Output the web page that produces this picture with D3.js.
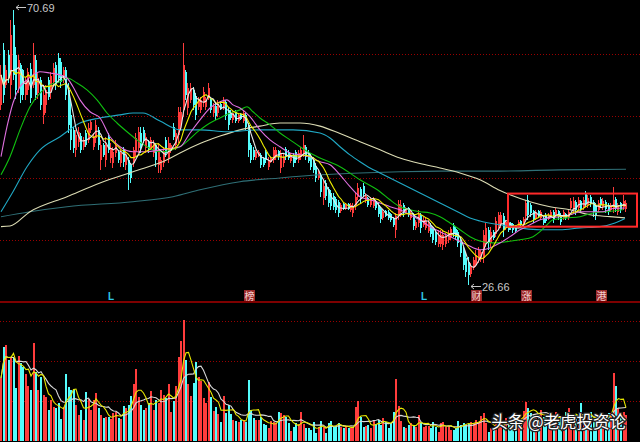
<!DOCTYPE html>
<html>
<head>
<meta charset="utf-8">
<script src="https://cdn.jsdelivr.net/npm/d3@7"></script>
<style>
html, body { margin: 0; padding: 0; background: #000; }
svg { display: block; }
</style>
</head>
<body>
<svg id="drawing_region"></svg>
<script>
// daily prices, one entry per trading day
const open = [
55.5,64.3,58.7,63.5,58.7,68.3,63.5,58.2,61.9,61.1, 57.1,57.9,61.2,58.7,62.7,57.4,59.5,53.9,55.5,59.5,
57.6,59.2,61.9,63.0,62.4,59.5,61.1,57.9,53.9,51.5, 48.3,49.6,50.5,48.8,51.0,49.9,51.5,48.8,50.2,51.5,
46.7,49.1,46.7,50.4,47.0,46.2,47.8,48.0,46.2,48.3, 45.9,46.7,45.9,46.2,48.0,48.6,51.0,51.5,48.6,49.6,
48.6,47.8,49.1,45.9,45.1,46.2,49.9,47.0,48.3,52.0, 49.1,50.7,52.3,54.7,60.8,55.0,56.3,57.9,56.9,55.2,
54.7,55.8,55.2,56.8,56.5,54.2,55.3,54.2,55.7,55.2, 56.0,54.7,54.4,53.1,54.4,52.9,54.1,52.9,53.9,52.3,
49.1,48.3,47.0,47.3,47.5,47.0,48.0,45.6,46.4,46.7, 47.2,48.1,45.4,46.2,48.5,48.0,46.5,47.5,48.0,46.7,
47.2,47.8,48.8,47.8,47.3,46.7,45.7,43.8,44.3,40.6, 43.0,42.1,41.4,40.9,40.5,40.0,38.5,39.7,38.9,39.7,
38.7,38.2,39.3,40.8,42.1,42.5,40.1,40.6,39.5,39.3, 40.1,39.5,38.9,37.4,38.5,38.4,38.1,37.4,35.5,37.9,
38.4,39.5,38.4,39.0,37.4,37.9,35.8,36.6,37.9,36.3, 35.8,35.3,36.3,35.7,35.2,33.3,33.3,33.0,33.3,33.9,
34.4,36.3,35.7,35.2,33.9,32.3,31.0,30.4,28.5,29.4, 30.1,30.7,31.0,31.0,33.6,35.5,33.4,35.2,34.9,36.1,
36.5,37.7,35.8,36.5,36.6,36.5,36.1,36.1,36.9,36.3, 37.7,40.3,39.5,38.5,37.4,38.5,37.4,37.4,37.9,37.3,
37.7,38.4,37.9,38.5,37.9,37.4,38.1,37.4,39.0,38.7, 40.0,39.0,40.1,39.0,41.3,39.5,40.8,40.0,39.5,38.7,
40.5,39.2,40.0,39.5,38.7,39.0,40.5,38.4,39.8,39.2, 38.9
];
const close = [
60.3,57.1,61.1,59.8,66.7,60.3,57.9,62.7,57.1,57.1, 59.5,60.8,56.6,63.5,57.1,59.8,55.5,57.1,57.9,56.8,
60.1,61.4,58.7,59.8,59.2,61.1,57.1,52.3,49.9,48.6, 50.7,51.2,48.3,49.9,49.1,51.8,52.8,50.4,52.3,49.1,
49.1,47.5,49.1,48.3,48.6,48.0,49.1,46.7,47.8,46.4, 47.5,44.3,43.8,48.3,50.2,51.2,48.6,49.9,50.4,48.3,
49.9,49.1,46.7,48.3,46.7,48.0,47.8,49.4,49.1,50.4, 51.0,54.4,54.4,61.9,57.1,58.2,58.2,55.5,53.9,56.3,
56.3,57.6,56.3,58.2,54.7,55.3,53.7,55.7,54.9,56.3, 53.7,52.3,53.4,54.2,52.9,53.9,53.3,54.2,52.0,48.3,
46.7,47.2,48.0,48.0,45.9,45.9,46.7,46.7,47.0,48.3, 48.3,47.2,47.8,47.2,47.2,47.0,47.5,46.2,46.7,47.8,
48.3,49.1,47.2,46.5,45.6,45.1,43.8,44.6,41.6,42.5, 40.9,39.8,39.3,39.2,38.7,38.2,39.5,38.9,39.5,38.9,
39.5,39.3,40.8,42.2,40.5,41.3,40.9,39.5,40.5,40.3, 39.0,38.1,37.3,38.4,37.7,37.4,37.1,36.3,37.7,39.7,
39.5,38.2,39.0,37.9,38.2,36.1,36.8,38.1,35.8,37.1, 36.9,36.5,34.9,33.9,33.6,34.7,34.6,34.6,34.4,35.0,
35.7,34.9,34.4,33.4,31.8,29.9,28.8,28.3,29.7,30.7, 31.5,32.3,32.0,34.7,35.8,33.4,35.2,34.2,36.9,37.9,
37.9,35.5,36.8,35.5,35.8,35.5,35.3,36.8,36.3,37.3, 39.8,37.9,38.2,37.3,38.2,37.7,38.4,36.6,36.9,37.9,
38.4,37.3,38.7,37.6,36.8,38.4,37.4,38.4,40.1,40.1, 38.7,40.3,38.9,40.3,39.7,40.6,39.7,38.4,37.9,39.8,
39.5,40.1,38.9,38.4,39.5,40.3,39.0,39.5,38.7,40.1, 39.8
];
const high = [
61.9,65.4,61.9,64.3,69.1,70.69,64.8,63.5,62.2,61.2, 60.0,61.4,62.2,65.4,63.5,60.6,60.0,58.4,58.7,60.0,
60.8,62.2,62.4,63.8,63.0,61.6,61.6,59.0,56.3,52.0, 51.5,52.0,51.0,50.4,51.5,52.6,53.1,51.0,53.1,52.0,
49.9,49.4,50.4,51.0,49.4,48.8,49.9,48.3,48.3,48.8, 48.3,47.2,46.2,48.8,51.0,52.0,52.0,52.0,51.0,49.9,
50.4,49.9,49.4,49.4,47.2,48.8,50.4,50.4,49.4,52.6, 51.5,55.2,55.2,65.4,61.1,59.0,59.0,58.4,57.4,56.8,
56.8,58.4,56.8,59.0,56.8,55.8,55.8,56.3,55.8,56.8, 56.3,55.2,54.7,54.7,54.7,54.2,54.2,54.7,54.2,52.6,
49.4,48.8,48.3,48.3,47.8,47.2,48.3,47.2,47.2,48.8, 48.8,48.3,48.3,47.8,48.8,48.3,47.8,47.8,48.3,48.3,
48.8,50.7,49.1,48.3,47.8,47.2,46.2,45.1,44.6,43.5, 43.5,42.4,41.9,41.4,40.8,40.3,39.8,39.8,39.8,39.8,
39.8,39.8,41.4,43.0,42.4,43.0,41.4,40.8,40.8,40.8, 40.3,39.8,39.2,38.7,38.7,38.7,38.2,37.6,38.2,40.3,
40.3,39.8,39.2,39.2,38.7,38.2,37.1,38.7,38.2,37.6, 37.6,37.1,36.6,36.0,35.5,35.5,35.5,35.5,35.0,35.5,
36.0,36.6,36.0,35.5,34.4,32.8,31.8,31.2,30.2,31.2, 32.3,32.8,32.3,35.5,36.6,36.0,36.0,35.5,37.6,38.4,
38.4,38.2,37.1,36.6,36.8,36.6,36.3,37.1,37.1,37.6, 40.3,41.1,39.8,38.7,38.7,38.7,38.7,37.6,38.2,38.2,
38.7,38.7,39.0,38.7,38.2,38.7,38.2,38.7,40.6,40.8, 40.3,40.8,40.3,40.8,41.7,41.1,41.1,40.3,39.8,40.3,
40.8,40.6,40.3,39.8,39.8,42.4,40.8,39.8,40.0,41.1, 40.3
];
const low = [
54.7,55.8,58.2,59.0,56.4,59.5,56.4,57.4,55.8,56.3, 56.3,57.1,55.8,58.2,56.3,56.4,54.7,52.4,54.2,56.3,
56.4,58.4,57.9,59.0,58.2,59.0,56.3,51.0,48.3,47.8, 47.2,48.8,47.8,48.3,48.8,49.4,51.0,48.3,49.4,48.3,
45.1,47.2,45.6,47.8,46.2,45.4,47.2,46.2,45.6,45.6, 45.1,41.9,43.0,45.6,47.2,47.8,47.8,49.4,47.8,47.8,
48.3,47.2,45.6,44.6,44.6,45.6,47.2,46.2,47.8,49.9, 48.3,49.4,51.5,53.6,56.3,53.8,55.8,54.7,53.1,54.7,
54.2,55.2,54.7,56.3,54.2,53.6,53.1,53.6,54.7,54.7, 53.1,51.5,53.1,52.6,52.6,52.6,53.1,52.6,51.5,47.2,
46.2,46.7,46.7,47.2,45.4,45.6,46.2,45.1,46.2,46.2, 46.7,46.7,44.6,45.6,46.7,46.7,46.2,45.6,46.2,46.2,
46.7,47.2,46.7,46.2,45.1,44.6,43.2,43.5,40.8,39.4, 40.3,39.2,38.7,38.7,38.2,37.6,38.2,38.7,38.7,38.7,
38.4,37.6,38.7,40.3,39.8,40.8,39.8,39.2,39.2,39.0, 38.7,37.6,36.6,37.1,37.6,37.1,36.8,36.0,34.2,37.1,
37.6,37.6,38.2,37.6,37.1,35.5,35.5,36.0,35.0,36.0, 35.5,35.0,34.4,33.4,33.1,32.8,32.8,32.3,32.8,33.4,
33.9,34.4,33.9,32.8,31.2,29.1,28.0,26.66,28.0,29.1, 29.6,30.2,30.4,30.2,32.8,32.3,32.8,33.9,34.4,35.5,
35.8,34.4,35.5,35.2,35.5,35.0,35.0,35.8,36.0,36.0, 37.1,37.1,37.6,36.6,37.1,37.4,37.1,36.3,36.6,37.1,
37.4,36.6,37.6,37.1,36.3,37.1,37.1,37.1,38.7,38.2, 37.9,38.7,38.2,38.7,39.2,39.0,39.2,37.6,37.1,38.2,
39.0,38.7,38.2,37.9,38.4,38.2,38.4,37.9,38.2,38.7, 38.4
];
const volume = [
63,94,96,81,84,83,53,85,78,74, 67,55,51,98,69,51,64,46,44,31,
41,34,33,38,22,34,67,54,51,52, 36,26,31,21,49,42,31,41,48,33,
26,23,24,24,22,28,29,23,22,35, 33,36,45,57,72,44,36,31,33,38,
50,31,41,38,51,46,43,57,29,40, 55,84,100,121,81,57,45,58,79,64,
60,43,38,59,44,30,34,27,19,45, 28,36,27,21,20,19,21,21,19,61,
31,23,21,21,24,17,16,13,20,19, 18,29,28,26,24,18,10,14,18,17,
29,17,13,13,11,19,8,14,20,14, 8,18,20,14,15,18,14,13,15,13,
13,14,34,40,24,14,15,16,13,21, 17,21,16,23,19,13,18,29,62,35,
20,14,13,16,18,16,14,26,18,14, 15,15,13,19,14,9,18,19,14,15,
11,11,13,20,16,18,16,17,19,18, 21,19,25,28,18,9,13,14,18,14,
18,16,23,18,19,21,26,21,21,30, 39,33,28,26,24,26,31,24,24,21,
24,21,29,21,24,22,29,33,24,22, 26,21,38,23,21,24,29,21,23,26,
24,23,21,28,28,68,55,33,24,29, 26
];

// long moving averages: [day index, price]
const ma20 = [[0,47.2],[2.4,52.0],[4.8,55.8],[7.6,58.4],[10.4,59.5],[12.8,60.3],[15.6,60.8],[19.6,60.6],[23.6,60.3],[26.4,59.8],
  [28.8,58.4],[31.6,56.3],[35.6,54.4],[39.6,53.4],[43.6,50.4],[47.6,48.8],[52.8,48.0],[58.4,48.0],[63.6,48.3],[71.6,48.8],
  [75.6,51.0],[79.6,53.1],[83.6,55.0],[87.6,56.0],[90.4,56.3],[92.8,55.5],[95.6,55.0],[99.6,53.6],[103.6,51.5],[107.6,49.9],
  [111.6,48.8],[115.6,47.8],[119.6,47.5],[123.6,47.2],[127.6,46.4],[131.6,45.9],[135.6,44.3],[139.6,42.4],[143.6,40.8],[147.6,40.3],
  [151.6,39.8],[155.6,39.2],[159.6,38.7],[163.6,37.9],[167.6,37.1],[171.6,36.0],[175.6,35.2],[180.8,34.2],[186.4,33.1],[191.6,32.3],
  [195.6,32.6],[199.6,33.4],[203.6,34.4],[207.6,35.5],[211.6,36.3],[215.6,37.1],[219.6,37.4],[223.6,37.6],[227.6,37.9],[231.6,38.4],
  [235.6,38.4],[240.8,38.4],[244.8,38.9],[249.6,39.0]];
const ma30 = [[0,44.3],[3.6,47.2],[7.6,51.5],[11.6,55.2],[15.6,57.4],[19.6,58.7],[23.6,59.2],[26.4,59.8],[30.4,59.0],[34.4,57.9],
  [38.4,56.3],[42.4,54.2],[46.4,52.6],[50.4,51.2],[54.4,49.9],[58.4,48.8],[63.6,48.0],[71.6,48.8],[79.6,51.5],[83.6,52.6],
  [87.6,53.4],[91.6,54.2],[95.6,54.7],[98.4,55.2],[100.8,54.4],[103.6,53.4],[107.6,52.3],[111.6,51.0],[115.6,49.9],[119.6,48.8],
  [123.6,47.8],[127.6,47.0],[135.6,45.6],[143.6,43.5],[151.6,41.6],[155.6,40.3],[159.6,39.2],[163.6,38.7],[167.6,38.4],[171.6,38.2],
  [175.6,37.6],[179.6,36.6],[183.6,35.5],[187.6,34.4],[191.6,33.7],[196.8,33.4],[202.4,33.6],[207.6,33.9],[212.8,34.4],[215.6,35.2],
  [218.4,36.3],[220.8,37.1],[226.4,37.4],[231.6,37.6],[236.8,38.2],[242.4,38.4],[248.8,38.7]];
const ma60 = [[0,38.4],[4.8,41.6],[10.4,45.6],[15.6,48.3],[23.6,50.4],[31.6,52.6],[39.6,53.4],[47.6,53.9],[52.8,54.2],[56.8,54.2],
  [63.6,52.9],[71.6,51.5],[79.6,51.5],[90.4,51.2],[103.6,51.5],[116.8,51.5],[127.6,51.0],[131.6,50.2],[135.6,48.8],[139.6,47.5],
  [143.6,46.4],[147.6,45.4],[151.6,44.6],[155.6,43.8],[159.6,43.0],[163.6,42.2],[167.6,41.4],[171.6,40.6],[175.6,39.8],[179.6,39.0],
  [183.6,38.2],[187.6,37.4],[191.6,36.9],[199.6,36.3],[207.6,35.8],[215.6,35.5],[223.6,35.5],[231.6,35.8],[239.6,36.0],[245.6,36.6],
  [249.6,37.3]];
const ma120 = [[0,36.0],[3.6,36.1],[11.6,38.4],[26.4,40.8],[39.6,43.0],[52.8,44.8],[66.4,46.7],[71.6,47.8],[79.6,49.3],[87.6,50.5],
  [95.6,51.5],[103.6,52.1],[111.6,52.6],[119.6,52.6],[127.6,52.1],[135.6,50.9],[143.6,49.6],[151.6,48.3],[159.6,47.0],[167.6,46.1],
  [175.6,45.4],[183.6,44.6],[191.6,43.5],[199.6,41.8],[203.6,41.1],[211.6,40.0],[219.6,39.2],[227.6,38.7],[235.6,37.9],[243.6,37.6],
  [249.6,37.4]];
const ma250 = [[0,37.6],[11.6,38.4],[26.4,39.2],[52.8,40.0],[68.8,40.8],[79.6,41.9],[95.6,43.2],[111.6,43.8],[127.6,44.3],[143.6,44.6],
  [159.6,44.8],[175.6,44.9],[199.6,44.9],[223.6,45.1],[250,45.2]];

const priceGrid = [63.66, 53.74, 43.82, 33.9];
const volumeGrid = [40, 80, 120];

const markerIdx = [44, 99, 169, 190, 210, 240];
const markerText = ['L', '榜', 'L', '财', '涨', '港'];

const boxIdx = [202.8, 254.4];
const boxPrice = [36.0, 41.3];

const config = {
    parent: '#drawing_region',
    width: 640,
    height: 442,
    plotLeft: 1, plotRight: 626,
    priceTop: 10, priceBottom: 285,
    divider: 302,
    volTop: 320, volBottom: 441
};

class KLineChart {
    constructor(config) {
        this.config = config;
        this.init();
    }

    init() {
        let self = this;
        const c = self.config;

        self.svg = d3.select(c.parent)
            .attr('width', c.width)
            .attr('height', c.height);

        self.svg.append('rect')
            .attr('width', c.width).attr('height', c.height)
            .attr('fill', '#000');

        self.xscale = d3.scaleLinear()
            .domain([0, close.length - 1])
            .range([c.plotLeft, c.plotRight]);

        self.yscale = d3.scaleLinear()
            .domain([d3.min(low), d3.max(high)])
            .range([c.priceBottom, c.priceTop]);

        self.vscale = d3.scaleLinear()
            .domain([0, 121])
            .range([c.volBottom, c.volTop]);

        self.render();
    }

    movingAverage(values, n) {
        return values.map((v, i) => d3.mean(values.slice(Math.max(0, i - n + 1), i + 1)));
    }

    render() {
        let self = this;
        const c = self.config;
        const up = '#ff3c3c', down = '#54fcfc';
        const days = d3.range(close.length);
        const colorOf = i => close[i] >= open[i] ? up : down;

        // grids
        self.svg.append('g').selectAll('line')
            .data(priceGrid.map(p => self.yscale(p)).concat(volumeGrid.map(v => self.vscale(v))))
            .join('line')
            .attr('x1', 0).attr('x2', c.width)
            .attr('y1', d => Math.round(d) + 0.5).attr('y2', d => Math.round(d) + 0.5)
            .attr('stroke', '#9a0000')
            .attr('stroke-dasharray', '1,2');

        self.svg.append('line')
            .attr('x1', 0).attr('x2', c.width)
            .attr('y1', c.divider).attr('y2', c.divider)
            .attr('stroke', '#a80000').attr('stroke-width', 1.5);

        // candles
        const candles = self.svg.append('g').attr('shape-rendering', 'crispEdges');
        candles.selectAll('line')
            .data(days)
            .join('line')
            .attr('x1', i => Math.round(self.xscale(i)) - 0.5)
            .attr('x2', i => Math.round(self.xscale(i)) - 0.5)
            .attr('y1', i => self.yscale(high[i]))
            .attr('y2', i => self.yscale(low[i]))
            .attr('stroke', colorOf);
        candles.selectAll('rect')
            .data(days)
            .join('rect')
            .attr('x', i => Math.round(self.xscale(i)) - 1)
            .attr('width', 2)
            .attr('y', i => self.yscale(Math.max(open[i], close[i])))
            .attr('height', i => Math.max(1, Math.abs(self.yscale(open[i]) - self.yscale(close[i]))))
            .attr('fill', colorOf);

        // volume bars
        self.svg.append('g').attr('shape-rendering', 'crispEdges')
            .selectAll('rect')
            .data(days)
            .join('rect')
            .attr('x', i => Math.round(self.xscale(i)) - 1)
            .attr('width', 2)
            .attr('y', i => self.vscale(volume[i]))
            .attr('height', i => self.vscale(0) - self.vscale(volume[i]))
            .attr('fill', colorOf);

        // moving averages
        const priceLine = d3.line()
            .x(d => self.xscale(d[0]))
            .y(d => self.yscale(d[1]));
        const smoothLine = d3.line()
            .x(d => self.xscale(d[0]))
            .y(d => self.yscale(d[1]))
            .curve(d3.curveMonotoneX);
        const volLine = d3.line()
            .x(d => self.xscale(d[0]))
            .y(d => self.vscale(d[1]));

        const pairs = arr => arr.map((v, i) => [i, v]);
        const lines = self.svg.append('g').attr('fill', 'none').attr('stroke-width', 1.1);

        [[ma250, '#2f6f76'], [ma120, '#dcdcb4'], [ma60, '#20a8c4'], [ma30, '#10c010'], [ma20, '#e070e0']]
            .forEach(([d, col]) => lines.append('path').attr('d', smoothLine(d)).attr('stroke', col));

        lines.append('path').attr('d', priceLine(pairs(self.movingAverage(close, 10)))).attr('stroke', '#f0f000');
        lines.append('path').attr('d', priceLine(pairs(self.movingAverage(close, 5)))).attr('stroke', '#e8e8e8');

        lines.append('path').attr('d', volLine(pairs(self.movingAverage(volume, 10)))).attr('stroke', '#d8d8d8');
        lines.append('path').attr('d', volLine(pairs(self.movingAverage(volume, 5)))).attr('stroke', '#e8e800');

        // high / low notes
        const iHigh = d3.maxIndex(high), iLow = d3.minIndex(low);
        const note = (i, price, dy) => {
            const x = Math.round(self.xscale(i)) + 2;
            const y = Math.round(self.yscale(price)) + dy;
            const g = self.svg.append('g');
            g.append('line').attr('x1', x).attr('x2', x + 10).attr('y1', y + 0.5).attr('y2', y + 0.5)
                .attr('stroke', '#c8c8c8');
            g.append('path').attr('d', `M${x + 3},${y - 2}L${x},${y + 0.5}L${x + 3},${y + 3}`)
                .attr('stroke', '#c8c8c8').attr('fill', 'none');
            g.append('text').attr('x', x + 11).attr('y', y + 4.5)
                .attr('fill', '#c8c8c8')
                .attr('font-family', 'Liberation Sans, Arial, sans-serif')
                .attr('font-size', 11)
                .text(price.toFixed(2));
        };
        note(iHigh, high[iHigh], -3);
        note(iLow, low[iLow], 1);

        // event markers
        const marks = self.svg.append('g');
        markerIdx.forEach((idx, k) => {
            const x = Math.round(self.xscale(idx));
            if (markerText[k] === 'L') {
                marks.append('text').attr('x', x).attr('y', 300)
                    .attr('text-anchor', 'middle')
                    .attr('fill', '#30c8e8')
                    .attr('font-family', 'Liberation Sans, Arial, sans-serif')
                    .attr('font-weight', 'bold')
                    .attr('font-size', 10)
                    .text(markerText[k]);
            } else {
                marks.append('rect').attr('x', x - 5).attr('y', 290).attr('width', 11).attr('height', 11)
                    .attr('fill', '#9a2a2a');
                marks.append('text').attr('x', x + 0.5).attr('y', 299.5)
                    .attr('text-anchor', 'middle')
                    .attr('fill', '#f4d0d0')
                    .attr('font-family', 'Noto Sans CJK SC, sans-serif')
                    .attr('font-size', 10)
                    .text(markerText[k]);
            }
        });

        // highlighted range
        self.svg.append('rect')
            .attr('x', self.xscale(boxIdx[0]))
            .attr('y', self.yscale(boxPrice[1]))
            .attr('width', self.xscale(boxIdx[1]) - self.xscale(boxIdx[0]))
            .attr('height', self.yscale(boxPrice[0]) - self.yscale(boxPrice[1]))
            .attr('fill', 'none')
            .attr('stroke', '#ff2a2a')
            .attr('stroke-width', 2);

        // watermark
        self.svg.append('text')
            .attr('x', 626).attr('y', 428)
            .attr('text-anchor', 'end')
            .attr('font-family', 'Noto Sans CJK SC, sans-serif')
            .attr('font-size', 16.5)
            .attr('fill', '#ffffff')
            .attr('stroke', '#222')
            .attr('stroke-width', 2.5)
            .attr('paint-order', 'stroke')
            .text('头条 @老虎投资论');
    }
}

new KLineChart(config);
</script>
</body>
</html>
